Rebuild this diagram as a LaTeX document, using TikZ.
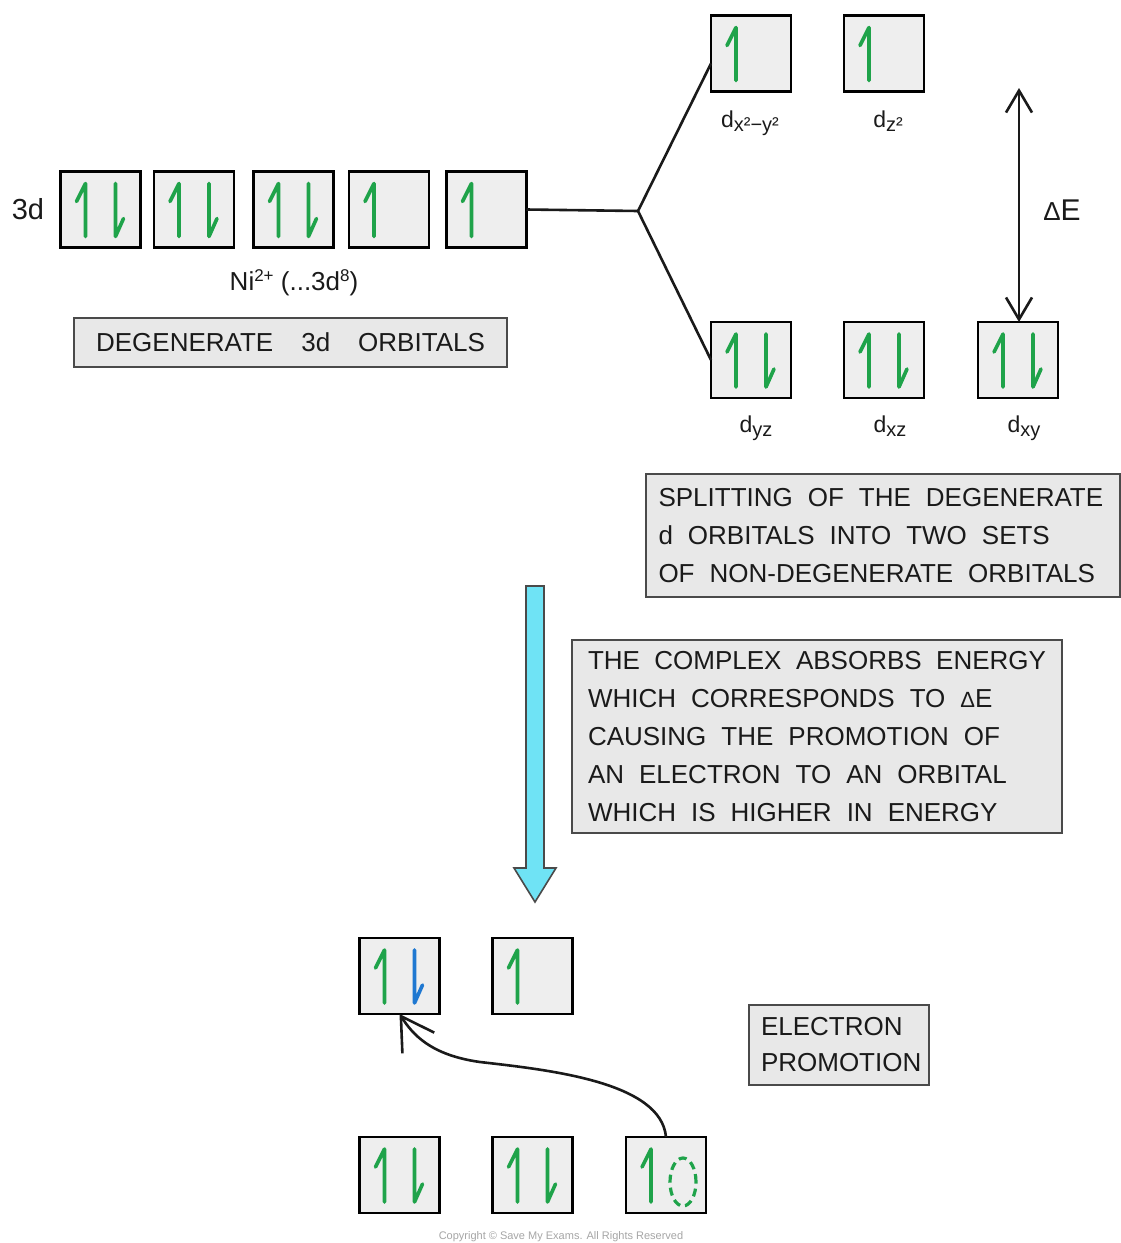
\documentclass[tikz,border=0pt]{standalone}
\usepackage{fontspec}
\setmainfont{Liberation Sans}
\usetikzlibrary{calc,arrows.meta}
\definecolor{egreen}{HTML}{1FA34A}
\definecolor{eblue}{HTML}{1F78D1}
\definecolor{txt}{HTML}{1A1A1A}
\definecolor{obfill}{HTML}{EEEEEE}
\definecolor{tbfill}{HTML}{E8E8E8}
\definecolor{tbline}{HTML}{4A4A4A}
\definecolor{cyanfill}{HTML}{6FE3F5}
\newcommand\widespaces{\spaceskip=15pt plus 2pt minus 1pt\relax\xspaceskip=15pt plus 2pt minus 1pt\relax}
\tikzset{
 orb/.style={draw=black, line width=2.5pt, fill=obfill, minimum width=80pt, minimum height=76pt, inner sep=0pt, outer sep=0pt},
 elec/.style={line width=3.6pt, line cap=round, line join=round},
 tbox/.style={draw=tbline, line width=1.7pt, fill=tbfill, inner ysep=0pt, outer sep=0pt, align=left, font=\fontsize{26}{38}\selectfont, text=txt},
 lbl/.style={font=\fontsize{26}{30}\selectfont, text=txt, inner sep=0pt},
 conn/.style={draw=txt, line width=2.6pt},
}
\newcommand\elup[2][egreen]{\draw[elec,#1] ($(#2.north west)+(16,30)$) -- ($(#2.north west)+(25,12)$) -- ($(#2.north west)+(25,65)$);}
\newcommand\eldn[2][egreen]{\draw[elec,#1] ($(#2.north west)+(55,12)$) -- ($(#2.north west)+(55,65)$) -- ($(#2.north west)+(63,47)$);}
\newcommand\dlabel[1]{d\raisebox{-4pt}{\fontsize{20}{22}\selectfont #1}}
\begin{document}
\begin{tikzpicture}[x=1pt,y=-1pt]
\fill[white] (0,0) rectangle (1121,1243);
\useasboundingbox (0,0) rectangle (1121,1243);

% degenerate 3d orbitals
\node[lbl, font=\fontsize{29}{30}\selectfont] (l3d) at (28,209) {3d};
\node[orb] (o1) at (100.5,209.5) {};
\node[orb] (o2) at (194,209.5) {};
\node[orb] (o3) at (293.5,209.5) {};
\node[orb] (o4) at (389,209.5) {};
\node[orb] (o5) at (486.5,209.5) {};
\elup{o1}\eldn{o1}
\elup{o2}\eldn{o2}
\elup{o3}\eldn{o3}
\elup{o4}
\elup{o5}
\node[lbl, font=\fontsize{26}{28}\selectfont] (ni) at (294,283) {Ni\raisebox{9pt}{\fontsize{17}{17}\selectfont 2+} (...3d\raisebox{9pt}{\fontsize{17}{17}\selectfont 8})};
\node[tbox, minimum width=433pt, minimum height=49pt, align=center] (degbox) at (290.5,342.5) {DEGENERATE\hspace{28pt}3d\hspace{28pt}ORBITALS};

% split orbitals
\node[orb] (dx2) at (751,53.5) {};
\node[orb] (dz2) at (884,53.5) {};
\node[orb] (dyz) at (751,360) {};
\node[orb] (dxz) at (884,360) {};
\node[orb] (dxy) at (1018,360) {};
\elup{dx2}
\elup{dz2}
\elup{dyz}\eldn{dyz}
\elup{dxz}\eldn{dxz}
\elup{dxy}\eldn{dxy}
\node[lbl, font=\fontsize{23}{26}\selectfont, anchor=base] (ldx2) at (750,127) {\dlabel{x²−y²}};
\node[lbl, font=\fontsize{23}{26}\selectfont, anchor=base] (ldz2) at (888,127) {\dlabel{z²}};
\node[lbl, font=\fontsize{23}{26}\selectfont, anchor=base] (ldyz) at (756,432) {\dlabel{yz}};
\node[lbl, font=\fontsize{23}{26}\selectfont, anchor=base] (ldxz) at (890,432) {\dlabel{xz}};
\node[lbl, font=\fontsize{23}{26}\selectfont, anchor=base] (ldxy) at (1024,432) {\dlabel{xy}};

\coordinate (sp) at (638,211);
\draw[conn] (o5.east) -- (sp);
\draw[conn, line join=miter] ([yshift=-10pt]dx2.west) -- (sp) -- (dyz.west);

\coordinate (detop) at (1019,88);
\draw[conn, {Straight Barb[length=22pt,width=26pt]}-{Straight Barb[length=22pt,width=26pt]}] (detop) -- (detop |- dxy.north);
\node[lbl, font=\fontsize{30}{32}\selectfont] (de) at (1062,210) {{\fontsize{26}{26}\selectfont Δ}E};

\node[tbox, anchor=north west, minimum width=474pt, minimum height=123pt, text width=449pt, inner xsep=12pt] (splitbox) at (646,474) {\widespaces SPLITTING OF THE DEGENERATE\\d ORBITALS INTO TWO SETS\\OF NON-DEGENERATE ORBITALS};

% absorption arrow
\filldraw[fill=cyanfill, draw=tbline, line width=1.6pt, line join=miter] (526,586) -- (544,586) -- (544,868) -- (556,868) -- (535,902) -- (514,868) -- (526,868) -- cycle;

\node[tbox, anchor=north west, minimum width=490pt, minimum height=193pt, text width=458pt, inner xsep=16pt] (absbox) at (572,640) {\widespaces THE COMPLEX ABSORBS ENERGY\\WHICH CORRESPONDS TO {\fontsize{22}{22}\selectfont Δ}E\\CAUSING THE PROMOTION OF\\AN ELECTRON TO AN ORBITAL\\WHICH IS HIGHER IN ENERGY};

% promoted configuration
\node[orb] (l1) at (399.5,976) {};
\node[orb] (l2) at (532.5,976) {};
\node[orb] (r1) at (399.5,1175) {};
\node[orb] (r2) at (532.5,1175) {};
\node[orb] (r3) at (666,1175) {};
\elup{l1}\eldn[eblue]{l1}
\elup{l2}
\elup{r1}\eldn{r1}
\elup{r2}\eldn{r2}
\elup{r3}
\draw[egreen, line width=3.2pt, dash pattern=on 8pt off 5pt] ($(r3.north west)+(57,45)$) ellipse [x radius=13pt, y radius=24pt];

\coordinate (mid) at (480,1062);
\draw[conn, -{Straight Barb[length=32pt,width=38pt]}] (r3.north) .. controls +(-5,-55) and +(70,8) .. (mid) .. controls +(-50,-7) and +(13,20) .. (l1.south);

\node[tbox, anchor=north west, minimum width=180pt, minimum height=80pt, text width=156pt, inner xsep=12pt, font=\fontsize{26}{36}\selectfont] (promo) at (749,1005) {ELECTRON\\PROMOTION};

\node[font=\fontsize{11}{12}\selectfont, text=gray!70, inner sep=0pt] (copy) at (561,1237) {Copyright © Save My Exams. All Rights Reserved};
\end{tikzpicture}
\end{document}
